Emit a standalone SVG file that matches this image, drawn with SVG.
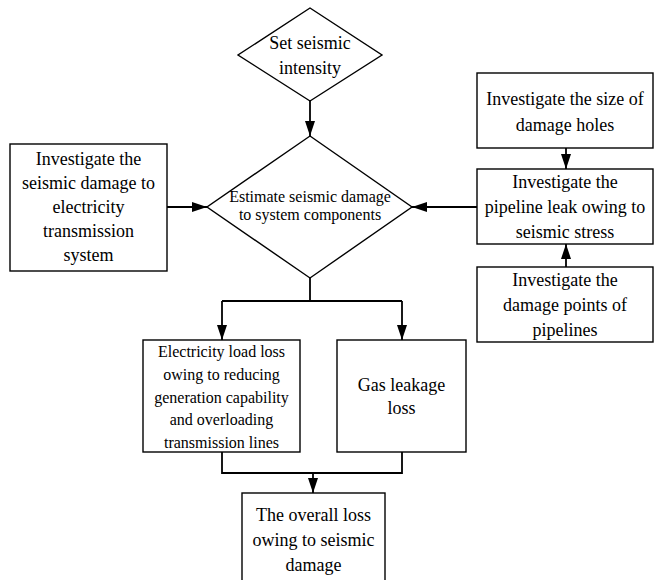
<svg xmlns="http://www.w3.org/2000/svg" width="654" height="580" viewBox="0 0 654 580">
<defs>
<style>
.box{fill:#fff;stroke:#000;stroke-width:1.4}
.t{font-family:'Liberation Serif','DejaVu Serif',serif;font-size:18px;fill:#000;text-anchor:middle}
.s{font-size:16px}
.c{fill:none;stroke:#000;stroke-width:1.8}
</style>
<marker id="ah" markerWidth="15" markerHeight="10" refX="15" refY="5" viewBox="0 0 15 10" orient="auto" markerUnits="userSpaceOnUse">
<path d="M0,0 L15,5 L0,10 Z" fill="#000"/>
</marker>
</defs>
<rect width="654" height="580" fill="#fff"/>
<g id="connectors">
<path class="c" d="M310,101 V136" marker-end="url(#ah)"/>
<path class="c" d="M167,207 H207" marker-end="url(#ah)"/>
<path class="c" d="M477,207 H412" marker-end="url(#ah)"/>
<path class="c" d="M566,148 V169" marker-end="url(#ah)"/>
<path class="c" d="M566,267 V244" marker-end="url(#ah)"/>
<path class="c" d="M310,278 V301"/>
<path class="c" d="M222,301 H402"/>
<path class="c" d="M222,301 V340" marker-end="url(#ah)"/>
<path class="c" d="M402,301 V340" marker-end="url(#ah)"/>
<path class="c" d="M222,452 V473 H402 V452"/>
<path class="c" d="M313,473 V493" marker-end="url(#ah)"/>
</g>
<g id="set-intensity">
<polygon class="box" points="310,8 382,55 310,101 238,55"/>
<text class="t" x="310" y="49" font-family="Liberation Serif, serif">Set seismic</text>
<text class="t" x="310" y="74">intensity</text>
</g>
<g id="estimate">
<polygon class="box" points="310,136 412,207 310,278 207,207"/>
<text class="t s" x="310" y="202">Estimate seismic damage</text>
<text class="t s" x="310" y="220">to system components</text>
</g>
<g id="electricity-investigate">
<rect class="box" x="10" y="144" width="157" height="127"/>
<text class="t" x="88.5" y="165">Investigate the</text>
<text class="t" x="88.5" y="189">seismic damage to</text>
<text class="t" x="88.5" y="213">electricity</text>
<text class="t" x="88.5" y="237">transmission</text>
<text class="t" x="88.5" y="261">system</text>
</g>
<g id="hole-size">
<rect class="box" x="477" y="73" width="176" height="75"/>
<text class="t" x="565" y="105">Investigate the size of</text>
<text class="t" x="565" y="131">damage holes</text>
</g>
<g id="pipeline-leak">
<rect class="box" x="477" y="169" width="176" height="75"/>
<text class="t" x="565" y="188">Investigate the</text>
<text class="t" x="565" y="213">pipeline leak owing to</text>
<text class="t" x="565" y="238">seismic stress</text>
</g>
<g id="damage-points">
<rect class="box" x="477" y="267" width="176" height="75"/>
<text class="t" x="565" y="286">Investigate the</text>
<text class="t" x="565" y="311">damage points of</text>
<text class="t" x="565" y="336">pipelines</text>
</g>
<g id="electricity-loss">
<rect class="box" x="143" y="340" width="157" height="112"/>
<text class="t s" x="221.5" y="357">Electricity load loss</text>
<text class="t s" x="221.5" y="380">owing to reducing</text>
<text class="t s" x="221.5" y="403">generation capability</text>
<text class="t s" x="221.5" y="425">and overloading</text>
<text class="t s" x="221.5" y="448">transmission lines</text>
</g>
<g id="gas-loss">
<rect class="box" x="337" y="340" width="129" height="112"/>
<text class="t" x="401.5" y="391">Gas leakage</text>
<text class="t" x="401.5" y="414">loss</text>
</g>
<g id="overall-loss">
<rect class="box" x="242" y="493" width="143" height="90"/>
<text class="t" x="313.5" y="521">The overall loss</text>
<text class="t" x="313.5" y="546">owing to seismic</text>
<text class="t" x="313.5" y="571">damage</text>
</g>
</svg>
